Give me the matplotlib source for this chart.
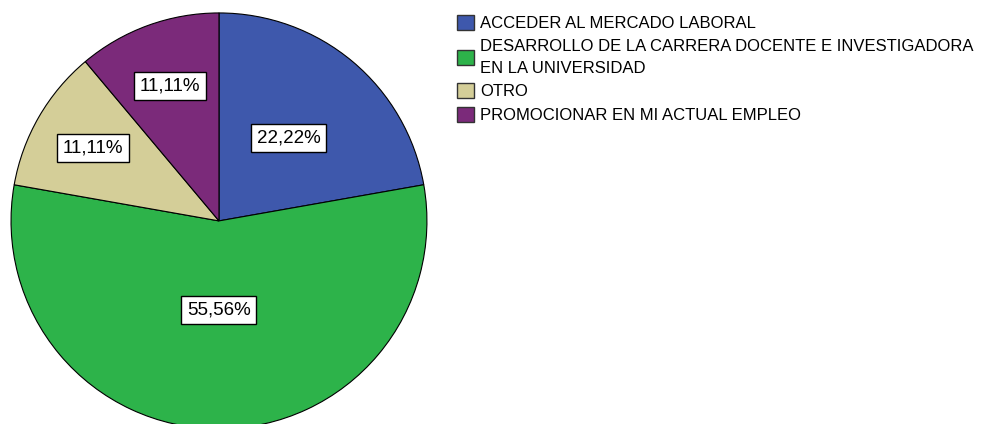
import numpy as np
import matplotlib
matplotlib.use("Agg")
import matplotlib.pyplot as plt
from matplotlib.patches import Patch

plt.rcParams['font.family'] = ['Liberation Sans', 'DejaVu Sans']

# datos
categorias = ["ACCEDER AL MERCADO LABORAL",
              "DESARROLLO DE LA CARRERA DOCENTE E INVESTIGADORA\nEN LA UNIVERSIDAD",
              "OTRO",
              "PROMOCIONAR EN MI ACTUAL EMPLEO"]
porcentajes = [22.22, 55.56, 11.11, 11.11]
etiquetas = ["22,22%", "55,56%", "11,11%", "11,11%"]
colores = ["#3E58AC", "#2DB34A", "#D4CE98", "#7B2A7A"]
dist_etiqueta = [0.52, 0.43, 0.70, 0.69]

fig = plt.figure(figsize=(9.99, 4.24), dpi=100)
ax = fig.add_axes([0.010, -0.014, 0.4184, 0.986])

wedges, _ = ax.pie(porcentajes, colors=colores, startangle=90, counterclock=False,
                   wedgeprops=dict(edgecolor="black", linewidth=0.8))
ax.set_aspect("equal")
ax.set_xlim(-1.005, 1.005)
ax.set_ylim(-1.005, 1.005)

for w, lab, d in zip(wedges, etiquetas, dist_etiqueta):
    ang = np.deg2rad((w.theta1 + w.theta2) / 2)
    ax.text(d * np.cos(ang), d * np.sin(ang), lab, ha="center", va="center",
            fontsize=13.5,
            bbox=dict(boxstyle="square,pad=0.3", facecolor="white", edgecolor="black", linewidth=1.0))

handles = [Patch(facecolor=c, edgecolor="#333333", linewidth=1.0) for c in colores]
leg = fig.legend(handles, categorias, loc="upper left", bbox_to_anchor=(0.4575, 0.965),
                 frameon=False, fontsize=12, handlelength=1.0, handleheight=1.0,
                 handletextpad=0.4, labelspacing=0.45, borderpad=0, borderaxespad=0)
for t in leg.get_texts():
    t.set_linespacing(1.6)

fig.savefig("out.png", dpi=100)
